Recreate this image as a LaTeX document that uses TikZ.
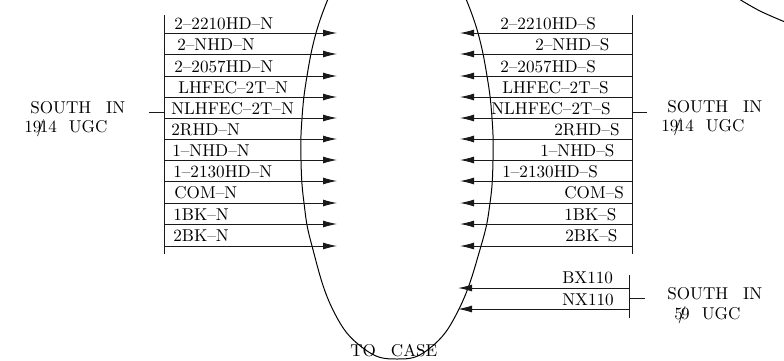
\documentclass[tikz,border=0pt]{standalone}
\usetikzlibrary{arrows.meta}
\tikzset{
  wire/.style={line width=0.95pt,black!90},
  bar/.style={line width=1pt,black!90},
  feed/.style={wire,-{Latex[length=14bp,width=7bp]}},
  lab/.style={anchor=base west,inner sep=0pt,font=\fontsize{10}{12}\selectfont,scale=1.72,black},
  side/.style={lab},
  arc/.style={line width=1pt,black}
}
\newcommand{\ff}{\kern-.3em/\kern-.3em}
\begin{document}
\begin{tikzpicture}[x=1bp,y=-1bp]
\useasboundingbox (0,0) rectangle (784,360);
\path[clip] (0,0) rectangle (784,360);
% ellipse
\draw[arc] plot[smooth,tension=0.75] coordinates {(328,-1)(316,33)(307,76)(302,118)(301,160)(304,203)(312,246)(333,310)(363,348)(397,359)(430,348)(459,309)(481,246)(490,203)(493,160)(492,118)(487,76)(478,33)(466,-1)};
\draw[arc] plot[smooth,tension=0.6] coordinates {(739,-1)(760,11)(785,22)};
% bundles
\coordinate (lt) at (164.5,15); \coordinate (lb) at (164.5,254);
\coordinate (rt) at (632,15); \coordinate (rb) at (632,254);
\draw[bar] (lt) -- (lb);
\draw[bar] (rt) -- (rb);
\foreach \y in {33,54,76,97,118,139,160,181,203,224,246}{
  \coordinate (a) at (164.5,\y); \coordinate (b) at (337,\y);
  \draw[feed] (a) -- (b);
  \coordinate (c) at (632,\y); \coordinate (d) at (460,\y);
  \draw[feed] (c) -- (d);
}
\foreach \x/\y/\t in {174/29/2--2210HD--N,177/50/2--NHD--N,174/72/2--2057HD--N,178/93/LHFEC--2T--N,171/114/NLHFEC--2T--N,171/135/2RHD--N,172/156/1--NHD--N,173/177/1--2130HD--N,174/198/COM--N,173/220/1BK--N,173/241/2BK--N,
500/29/2--2210HD--S,535/50/2--NHD--S,500/72/2--2057HD--S,502/93/LHFEC--2T--S,491/114/NLHFEC--2T--S,554/135/2RHD--S,540/156/1--NHD--S,502/177/1--2130HD--S,564/198/COM--S,564/220/1BK--S,565/241/2BK--S,562/283/BX110,562/305/NX110}{
  \node[lab] at (\x,\y) {\t};
}
% stubs
\coordinate (s1) at (149,112); \coordinate (s1e) at (164.5,112);
\coordinate (s2) at (647,112); \coordinate (s2e) at (632,112);
\draw[bar] (s1) -- (s1e);
\draw[bar] (s2) -- (s2e);
% lower bundle
\coordinate (ut) at (629,275); \coordinate (ub) at (629,318);
\draw[bar] (ut) -- (ub);
\coordinate (u1) at (629,288); \coordinate (u1e) at (458,288);
\coordinate (u2) at (629,309); \coordinate (u2e) at (458,309);
\draw[feed] (u1) -- (u1e);
\draw[feed] (u2) -- (u2e);
\coordinate (s3) at (645,298); \coordinate (s3e) at (629,298);
\draw[bar] (s3) -- (s3e);
% side labels
\node[side] (south1) at (30,113) {SOUTH\hspace{.87em}IN};
\node[side] (ugc1) at (24,132) {19\ff14\hspace{.7em}UGC};
\node[side] (south2) at (667,112) {SOUTH\hspace{.87em}IN};
\node[side] (ugc2) at (661,131) {19\ff14\hspace{.7em}UGC};
\node[side] (south3) at (667,299) {SOUTH\hspace{.87em}IN};
\node[side] (ugc3) at (674,319) {5\ff9\hspace{.7em}UGC};
\node[side] (tocase) at (350,356.5) {TO\hspace{.87em}CASE};
\end{tikzpicture}
\end{document}
